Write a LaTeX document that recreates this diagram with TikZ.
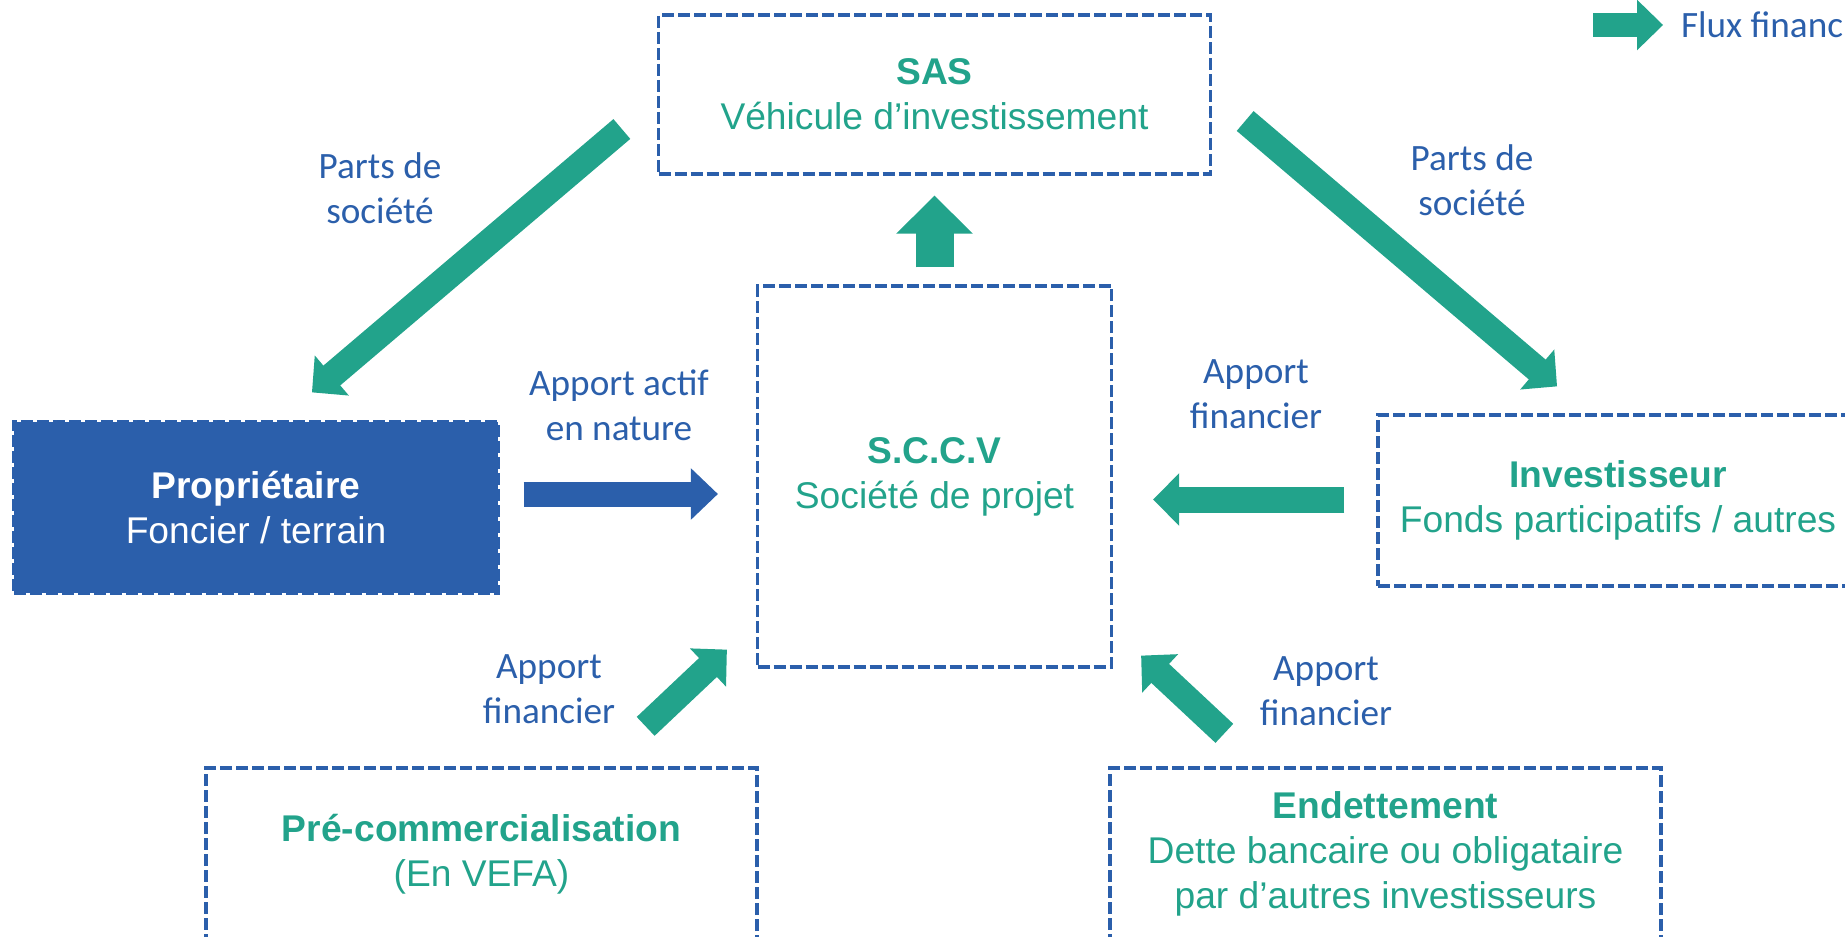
\documentclass[tikz,border=0pt]{standalone}
\usepackage{fontspec}
\setmainfont{Liberation Sans}
\newfontfamily\labelfont{Carlito}
\usetikzlibrary{arrows.meta,calc}
\definecolor{fluxgreen}{HTML}{22A38B}
\definecolor{actifblue}{HTML}{2B5FAB}
\tikzset{
  box/.style={draw=actifblue, line width=1.65pt, dash pattern=on 6pt off 2pt,
    inner sep=0pt, align=center, text=fluxgreen, font=\fontsize{18.6}{22.5}\selectfont},
  lbl/.style={text=actifblue, align=center, font=\labelfont\fontsize{18.6}{22.5}\selectfont},
  flux/.style={draw=fluxgreen, line width=13pt, -{Triangle[width=26pt,length=13pt,line width=1.5pt]}},
  bigflux/.style={draw=fluxgreen, line width=19pt, -{Triangle[width=38pt,length=19pt,line width=1.5pt]}},
  apport/.style={draw=actifblue, line width=12.5pt, -{Triangle[width=25.5pt,length=13.5pt,line width=1.5pt]}},
}
\begin{document}
\begin{tikzpicture}[x=0.5pt,y=-0.5pt]
	\useasboundingbox (0,0) rectangle (1845,936);

	% structures
	\node[box, minimum width=276pt, minimum height=79.5pt] (sas) at (934.5,94.5) {\textbf{SAS}\\Véhicule d’investissement};
	\node[box, minimum width=177pt, minimum height=190.5pt] (sccv) at (934.5,476.5) {\textbf{S.C.C.V}\\Société de projet};
	\node[box, fill=actifblue, text=white, minimum width=242pt, minimum height=85.5pt] (prop) at (256,507.5) {\textbf{Propriétaire}\\Foncier / terrain};
	\node[box, minimum width=240pt, minimum height=85.5pt] (inv) at (1618,500.5) {\textbf{Investisseur}\\Fonds participatifs / autres};
	\node[box, minimum width=275.5pt, minimum height=86pt] (precom) at (481.5,854) {\textbf{Pré-commercialisation}\\(En VEFA)};
	\node[box, minimum width=275.5pt, minimum height=86pt] (endet) at (1385.5,854) {\textbf{Endettement}\\Dette bancaire ou obligataire\\par d’autres investisseurs};

	% flux
	\draw[flux] ($(sas.west)+(-35,34.5)$) -- ($(prop.north)+(56,-28)$);
	\draw[flux] ($(sas.east)+(33,26.5)$) -- ($(inv.north)+(-61,-27)$);
	\draw[bigflux] ($(sccv.north)+(0,-17)$) -- ($(sas.south)+(0,20)$);
	\draw[apport] ($(prop.east)+(24,-13.5)$) -- ($(sccv.west)+(-38,17.5)$);
	\draw[flux] ($(inv.west)+(-32,-1)$) -- ($(sccv.east)+(40,23)$);
	\draw[flux] ($(precom.north east)+(-113,-40)$) -- ($(sccv.south west)+(-29,-19)$);
	\draw[flux] ($(endet.north west)+(116,-33)$) -- ($(sccv.south east)+(28,-13)$);

	\node[lbl] (partsg) at (380,188.5) {Parts de\\société};
	\node[lbl] (partsd) at (1472,180) {Parts de\\société};
	\node[lbl] (actif) at (619,405.5) {Apport actif\\en nature};
	\node[lbl] (find) at (1256,394.5) {Apport\\financier};
	\node[lbl] (finbg) at (549,689) {Apport\\financier};
	\node[lbl] (finbd) at (1326,691.5) {Apport\\financier};

	% legende
	\coordinate (legfin) at (1593,25);
	\node[lbl, anchor=west] (legtxt) at (1674,25) {Flux financiers};
	\draw[flux, line width=12pt, -{Triangle[width=25pt,length=13pt,line width=1.5pt]}, shorten >=5.5pt] (legfin) -- (legtxt.west);
\end{tikzpicture}
\end{document}
